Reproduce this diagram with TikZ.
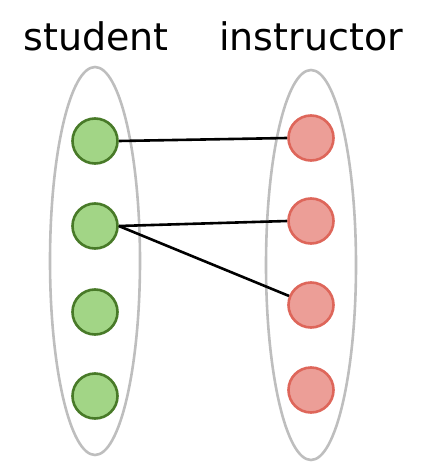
\documentclass[tikz,border=0pt]{standalone}
\usepackage{fontspec}
\setmainfont{DejaVu Sans}
\definecolor{gfill}{RGB}{162,213,134}
\definecolor{gdraw}{RGB}{72,122,40}
\definecolor{rfill}{RGB}{236,158,151}
\definecolor{rdraw}{RGB}{222,102,90}
\definecolor{ell}{RGB}{190,190,190}
\begin{document}
\begin{tikzpicture}[x=1pt,y=-1pt,
  snode/.style={circle,draw=gdraw,fill=gfill,line width=2.6pt,minimum size=45pt,inner sep=0pt},
  inode/.style={circle,draw=rdraw,fill=rfill,line width=2.6pt,minimum size=45pt,inner sep=0pt},
  link/.style={draw=black,line width=2.6pt},
  lbl/.style={font=\fontsize{38}{42}\selectfont,inner sep=0pt,anchor=base}]
\useasboundingbox (0,0) rectangle (425,463);
\draw[draw=ell,line width=2.6pt] (95,261) ellipse [x radius=45, y radius=194];
\draw[draw=ell,line width=2.6pt] (311,265) ellipse [x radius=45, y radius=195];
\node[lbl] (ls) at (96,50) {student};
\node[lbl] (li) at (311,50) {instructor};
\node[snode] (s1) at (95,141) {};
\node[snode] (s2) at (95,226) {};
\node[snode] (s3) at (95,312) {};
\node[snode] (s4) at (95,396) {};
\node[inode] (i1) at (311,138) {};
\node[inode] (i2) at (311,221) {};
\node[inode] (i3) at (311,305) {};
\node[inode] (i4) at (311,390) {};
\draw[link] (s1.east) -- (i1.west);
\draw[link] (s2.east) -- (i2.west);
\draw[link] (s2.east) -- (i3);
\end{tikzpicture}
\end{document}
